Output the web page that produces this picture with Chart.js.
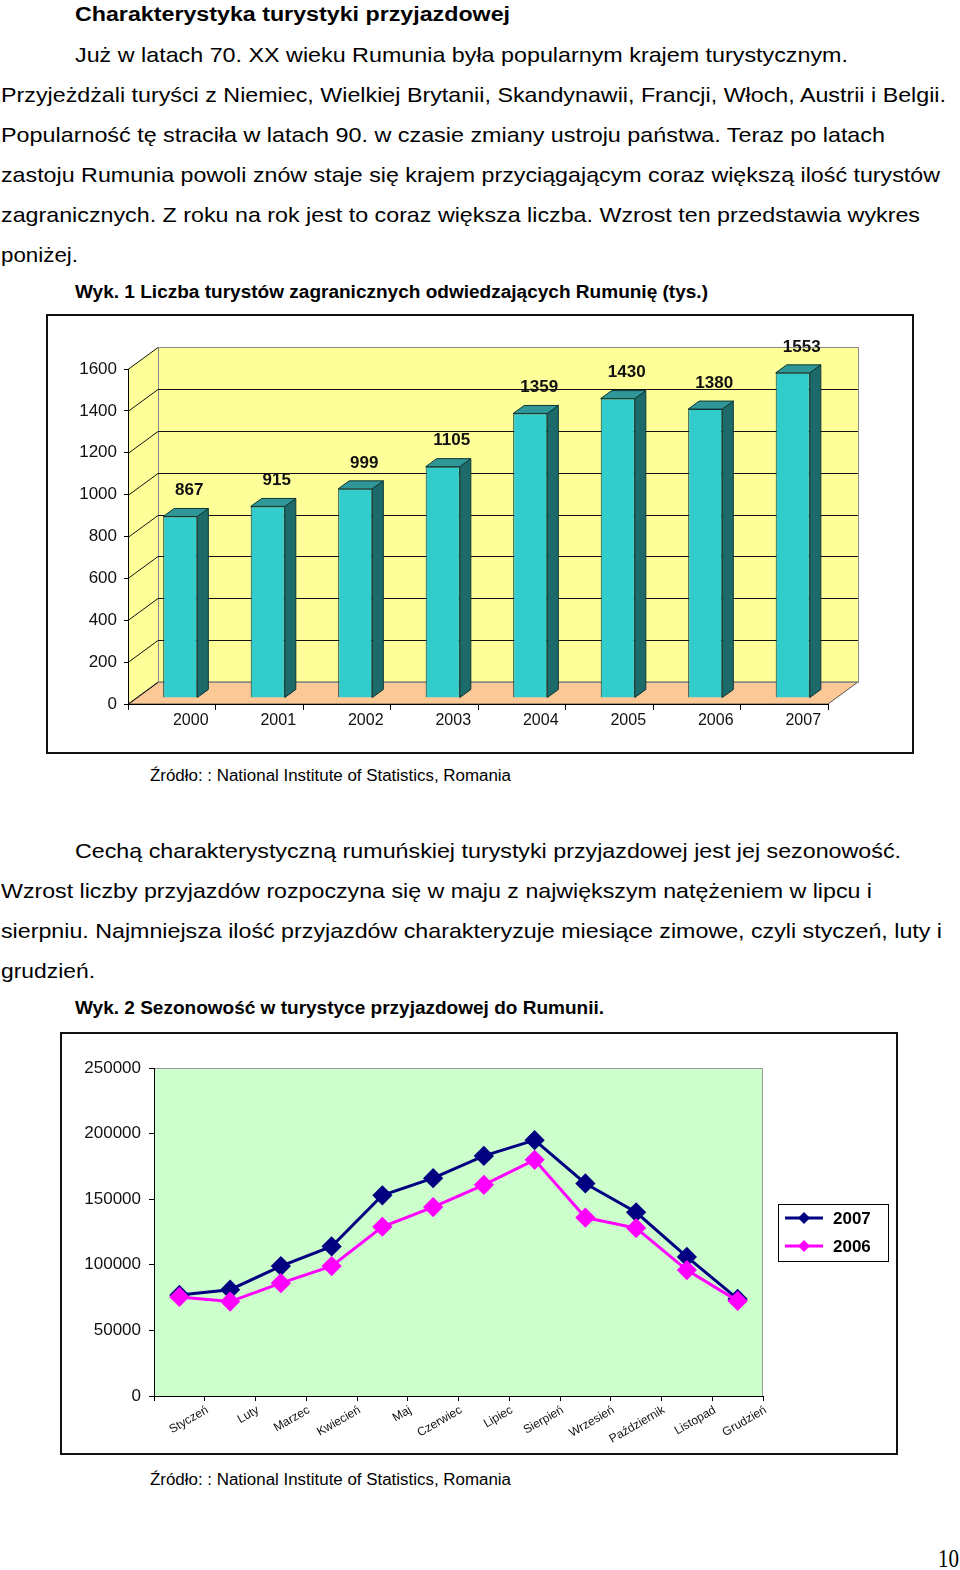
<!DOCTYPE html>
<html>
<head>
<meta charset="utf-8">
<script src="https://cdn.jsdelivr.net/npm/chart.js@4.4.0/dist/chart.umd.min.js"></script>
<style>
body{margin:0;background:#fff;width:960px;height:1570px;position:relative;overflow:hidden;font-family:'Liberation Sans',Arial,sans-serif;color:#000}
.t{position:absolute;white-space:nowrap;transform-origin:0 0}
.box{position:absolute;border:2px solid #111;box-sizing:border-box}
canvas{position:absolute}
</style>
</head>
<body>
<div class="box" style="left:46px;top:314px;width:868px;height:440px"></div>
<canvas id="chart1" width="864" height="436" style="left:48px;top:316px"></canvas>
<div class="box" style="left:60px;top:1032px;width:838px;height:423px"></div>
<canvas id="chart2" width="834" height="419" style="left:62px;top:1034px"></canvas>
<script>
// chart 1 - foreign tourists (thousands)
const years = ['2000', '2001', '2002', '2003', '2004', '2005', '2006', '2007'];
const tourists = [867, 915, 999, 1105, 1359, 1430, 1380, 1553];

// chart 2 - monthly arrivals
const months = ['Styczeń', 'Luty', 'Marzec', 'Kwiecień', 'Maj', 'Czerwiec', 'Lipiec', 'Sierpień', 'Wrzesień', 'Październik', 'Listopad', 'Grudzień'];
const arrivals2007 = [77000, 81000, 99000, 114000, 153000, 166000, 183000, 195000, 162000, 140000, 106000, 74000];
const arrivals2006 = [75500, 72000, 86000, 99000, 129000, 144000, 161000, 180000, 136000, 128000, 96000, 72500];

// page text: [text, left, baseline, width, size, bold]
const lines = [
  ['Charakterystyka turystyki przyjazdowej', 75, 21, 435, 20, true],
  ['Już w latach 70. XX wieku Rumunia była popularnym krajem turystycznym.', 75, 62, 773, 21],
  ['Przyjeżdżali turyści z Niemiec, Wielkiej Brytanii, Skandynawii, Francji, Włoch, Austrii i Belgii.', 1, 102, 945, 21],
  ['Popularność tę straciła w latach 90. w czasie zmiany ustroju państwa. Teraz po latach', 1, 142, 884, 21],
  ['zastoju Rumunia powoli znów staje się krajem przyciągającym coraz większą ilość turystów', 1, 182, 939, 21],
  ['zagranicznych. Z roku na rok jest to coraz większa liczba. Wzrost ten przedstawia wykres', 1, 222, 919, 21],
  ['poniżej.', 1, 262, 77, 21],
  ['Wyk. 1 Liczba turystów zagranicznych odwiedzających Rumunię (tys.)', 75, 298, 633, 18, true],
  ['Źródło: : National Institute of Statistics, Romania', 150, 782, 361, 16],
  ['Cechą charakterystyczną rumuńskiej turystyki przyjazdowej jest jej sezonowość.', 75, 858, 826, 21],
  ['Wzrost liczby przyjazdów rozpoczyna się w maju z największym natężeniem w lipcu i', 1, 898, 871, 21],
  ['sierpniu. Najmniejsza ilość przyjazdów charakteryzuje miesiące zimowe, czyli styczeń, luty i', 1, 938, 941, 21],
  ['grudzień.', 1, 978, 94, 21],
  ['Wyk. 2 Sezonowość w turystyce przyjazdowej do Rumunii.', 75, 1014, 529, 18, true],
  ['Źródło: : National Institute of Statistics, Romania', 150, 1486, 361, 16]
];

lines.forEach(([txt, x, base, w, fs, bold]) => {
  const d = document.createElement('div');
  d.className = 't';
  d.textContent = txt;
  d.style.fontSize = fs + 'px';
  d.style.lineHeight = fs + 'px';
  if (bold) d.style.fontWeight = 'bold';
  d.style.left = x + 'px';
  d.style.top = (base - 0.847 * fs) + 'px';
  document.body.appendChild(d);
  const real = d.getBoundingClientRect().width;
  d.style.transform = 'scaleX(' + (w / real) + ')';
});

const pg = document.createElement('div');
pg.className = 't';
pg.textContent = '10';
pg.style.cssText = 'font-family:"Liberation Serif",serif;font-size:26px;line-height:26px;left:938px;top:' + (1568 - 0.84 * 26) + 'px';
document.body.appendChild(pg);
pg.style.transform = 'scaleX(' + (21 / pg.getBoundingClientRect().width) + ')';

// 3d look for chart 1
const DX = 30, DY = -22;   // wall depth
const BX = 8.5, BY = -6;   // bars stand a bit inside the floor
const SX = 11, SY = -8;    // bar depth

function poly(ctx, pts, fill, stroke) {
  ctx.beginPath();
  ctx.moveTo(pts[0][0], pts[0][1]);
  for (let i = 1; i < pts.length; i++) ctx.lineTo(pts[i][0], pts[i][1]);
  ctx.closePath();
  if (fill) { ctx.fillStyle = fill; ctx.fill(); }
  if (stroke) { ctx.strokeStyle = stroke; ctx.stroke(); }
}

const walls = {
  id: 'walls',
  beforeDraw(chart) {
    const {ctx, chartArea: a, scales: {y}} = chart;
    ctx.save();
    ctx.lineWidth = 1;
    ctx.fillStyle = '#ffff99';
    ctx.fillRect(a.left + DX, a.top + DY, a.right - a.left, a.bottom - a.top);
    poly(ctx, [[a.left, a.top], [a.left + DX, a.top + DY], [a.left + DX, a.bottom + DY], [a.left, a.bottom]], '#ffff99');
    poly(ctx, [[a.left, a.bottom], [a.left + DX, a.bottom + DY], [a.right + DX, a.bottom + DY], [a.right, a.bottom]], '#fcc896', '#555');
    ctx.strokeStyle = '#8a8a8a';
    ctx.strokeRect(a.left + DX + 0.5, a.top + DY + 0.5, a.right - a.left, a.bottom - a.top);
    y.ticks.forEach(t => {
      const py = Math.round(y.getPixelForValue(t.value)) + 0.5;
      ctx.strokeStyle = '#111';
      ctx.beginPath();
      ctx.moveTo(a.left, py);
      ctx.lineTo(a.left + DX, py + DY);
      if (t.value > 0 && t.value < 1600) ctx.lineTo(a.right + DX, py + DY);
      ctx.stroke();
    });
    ctx.restore();
  },
  beforeDatasetsDraw(chart) {
    chart.ctx.save();
    chart.ctx.translate(BX, BY);
  },
  afterDatasetsDraw(chart) {
    const ctx = chart.ctx;
    const meta = chart.getDatasetMeta(0);
    ctx.lineWidth = 1;
    meta.data.forEach((bar, i) => {
      const {x, y, base, width} = bar.getProps(['x', 'y', 'base', 'width'], true);
      const l = x - width / 2, r = x + width / 2;
      poly(ctx, [[r, y], [r + SX, y + SY], [r + SX, base + SY], [r, base]], '#1d6a6a', '#0d3535');
      poly(ctx, [[l, y], [l + SX, y + SY], [r + SX, y + SY], [r, y]], '#2f9797', '#0d3535');
      ctx.fillStyle = '#111';
      ctx.font = 'bold 17px "Liberation Sans", Arial, sans-serif';
      ctx.textAlign = 'center';
      ctx.textBaseline = 'middle';
      ctx.fillText(tourists[i], x + 9, y - 26);
    });
    ctx.restore();
  }
};

new Chart(document.getElementById('chart1'), {
  type: 'bar',
  data: {
    labels: years,
    datasets: [{
      data: tourists,
      backgroundColor: '#33cccc',
      borderColor: '#0d3535',
      borderWidth: 1,
      categoryPercentage: 1,
      barPercentage: 0.39,
      clip: false
    }]
  },
  plugins: [walls],
  options: {
    responsive: false,
    animation: false,
    layout: {padding: {left: 0, right: 84, top: 53, bottom: 0}},
    plugins: {legend: {display: false}, tooltip: {enabled: false}},
    scales: {
      x: {
        afterFit: s => { s.height = 48; },
        grid: {drawOnChartArea: false, tickLength: 6, color: '#000'},
        border: {color: '#000', width: 1},
        ticks: {color: '#111', font: {size: 16, family: '"Liberation Sans", Arial'}, labelOffset: 19, padding: 1}
      },
      y: {
        min: 0, max: 1600,
        afterFit: s => { s.width = 80; },
        grid: {drawOnChartArea: false, tickLength: 4, color: '#000'},
        border: {color: '#000', width: 1},
        ticks: {stepSize: 200, color: '#111', font: {size: 17, family: '"Liberation Sans", Arial'}, padding: 7,
                callback: v => String(v)}
      }
    }
  }
});

const plotBg = {
  id: 'plotBg',
  beforeDraw(chart) {
    const {ctx, chartArea: a} = chart;
    ctx.save();
    ctx.fillStyle = '#ccffcc';
    ctx.fillRect(a.left, a.top, a.right - a.left, a.bottom - a.top);
    ctx.strokeStyle = '#9a9a9a';
    ctx.lineWidth = 1;
    ctx.strokeRect(a.left + 0.5, a.top + 0.5, a.right - a.left - 1, a.bottom - a.top);
    ctx.restore();
  },
  afterDraw(chart) {
    const {ctx, chartArea: a} = chart;
    const w = 110, h = 57, x0 = a.right + 15, y0 = Math.round((a.top + a.bottom) / 2 - h / 2);
    ctx.save();
    ctx.fillStyle = '#fff';
    ctx.fillRect(x0, y0, w, h);
    ctx.strokeStyle = '#000';
    ctx.lineWidth = 1;
    ctx.strokeRect(x0 + 0.5, y0 + 0.5, w, h);
    chart.data.datasets.forEach((ds, i) => {
      const cy = y0 + 14 + i * 28;
      ctx.strokeStyle = ds.borderColor;
      ctx.lineWidth = 3;
      ctx.beginPath();
      ctx.moveTo(x0 + 7, cy);
      ctx.lineTo(x0 + 45, cy);
      ctx.stroke();
      poly(ctx, [[x0 + 26, cy - 6], [x0 + 32, cy], [x0 + 26, cy + 6], [x0 + 20, cy]], ds.borderColor);
      ctx.fillStyle = '#000';
      ctx.font = 'bold 17px "Liberation Sans", Arial, sans-serif';
      ctx.textBaseline = 'middle';
      ctx.fillText(ds.label, x0 + 55, cy + 1);
    });
    ctx.restore();
  }
};

new Chart(document.getElementById('chart2'), {
  type: 'line',
  data: {
    labels: months,
    datasets: [
      {label: '2007', data: arrivals2007, borderColor: '#000080', backgroundColor: '#000080', borderWidth: 3,
       pointStyle: 'rectRot', pointRadius: 8, order: 2},
      {label: '2006', data: arrivals2006, borderColor: '#ff00ff', backgroundColor: '#ff00ff', borderWidth: 3,
       pointStyle: 'rectRot', pointRadius: 8, order: 1}
    ]
  },
  plugins: [plotBg],
  options: {
    responsive: false,
    animation: false,
    layout: {padding: {left: 0, right: 133, top: 34, bottom: 0}},
    plugins: {legend: {display: false}, tooltip: {enabled: false}},
    scales: {
      x: {
        offset: true,
        afterFit: s => { s.height = 57; },
        grid: {offset: true, drawOnChartArea: false, tickLength: 5, color: '#000'},
        border: {color: '#000', width: 1},
        ticks: {autoSkip: false, minRotation: 30, maxRotation: 30, color: '#111',
                font: {size: 12, family: '"Liberation Sans", Arial'}, labelOffset: 28, padding: 2}
      },
      y: {
        min: 0, max: 250000,
        afterFit: s => { s.width = 92; },
        grid: {drawOnChartArea: false, tickLength: 5, color: '#000'},
        border: {color: '#000', width: 1},
        ticks: {stepSize: 50000, color: '#111', font: {size: 17, family: '"Liberation Sans", Arial'}, padding: 8,
                callback: v => String(v)}
      }
    }
  }
});
</script>
</body>
</html>
